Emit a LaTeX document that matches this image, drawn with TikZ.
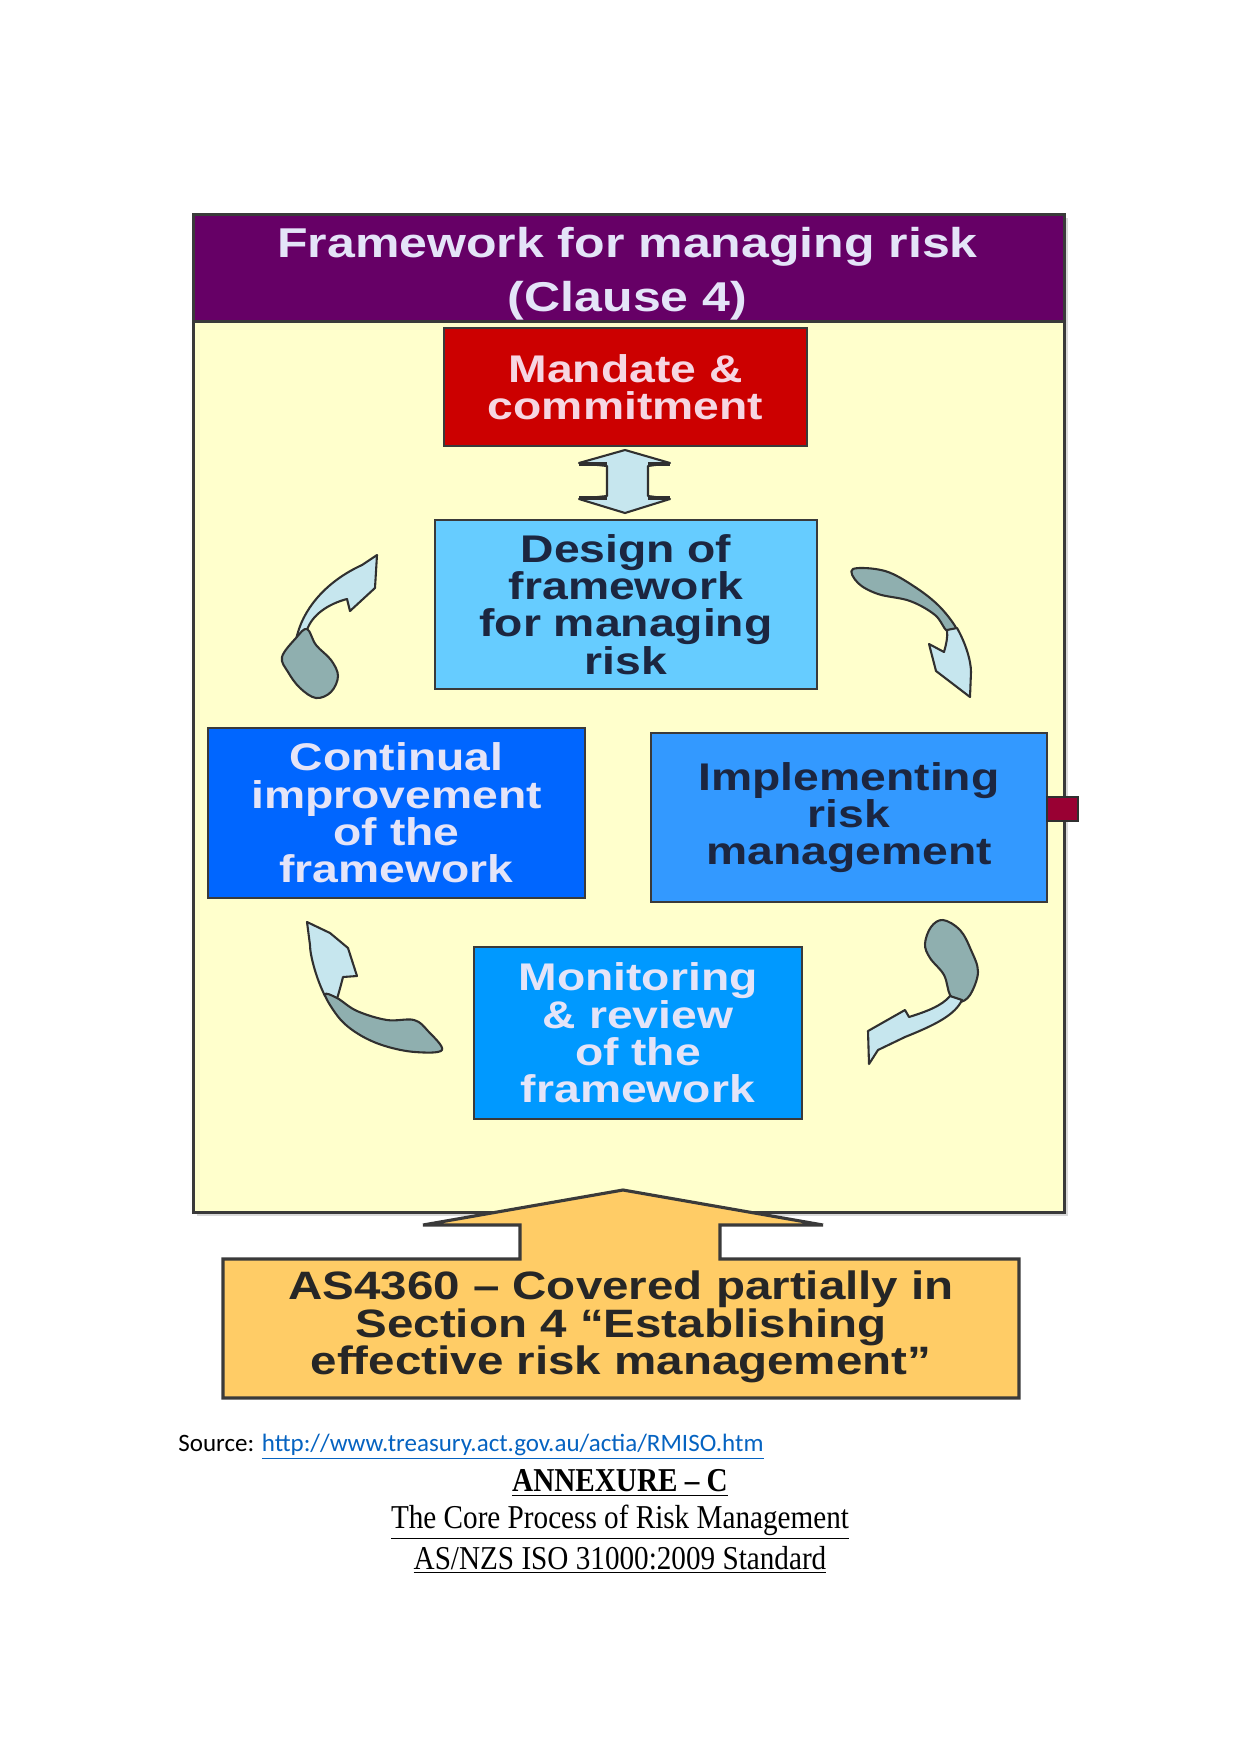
\documentclass[tikz,border=0pt]{standalone}
\usepackage{fontspec}
\setmainfont{Liberation Serif}
\newfontfamily\dfont{Liberation Sans}[FakeStretch=1.2,Ligatures=TeX]
\newfontfamily\capfont{Liberation Serif}[FakeStretch=0.875,Ligatures=TeX]
\newfontfamily\srcfont{Carlito}
\def\pxu{0.4797pt}
\definecolor{hdrpurple}{HTML}{660066}
\definecolor{framefill}{HTML}{FFFFCC}
\definecolor{frameline}{HTML}{3A3A3A}
\definecolor{mandred}{HTML}{CC0000}
\definecolor{designblue}{HTML}{66CCFF}
\definecolor{contblue}{HTML}{0066FF}
\definecolor{implblue}{HTML}{3399FF}
\definecolor{monblue}{HTML}{0099FF}
\definecolor{asorange}{HTML}{FFCC66}
\definecolor{tabred}{HTML}{990033}
\definecolor{arrlight}{HTML}{C6E6EE}
\definecolor{arrdark}{HTML}{8FAFAF}
\definecolor{arrline}{HTML}{303030}
\definecolor{linkblue}{HTML}{0563C1}
\definecolor{lighttxt}{HTML}{E4E4F8}
\definecolor{pinktxt}{HTML}{F6D6E2}
\definecolor{darktxt}{HTML}{1C2640}
\begin{document}
\begin{tikzpicture}[x=0.4797pt,y=-0.4797pt,
  box/.style={draw=frameline, line width=1.3pt, inner sep=0pt, align=center,
    font=\dfont\bfseries\fontsize{18.5}{17.9}\selectfont},
  lt/.style={fill=arrlight, draw=arrline, line width=1pt, line join=round},
  dk/.style={fill=arrdark, draw=arrline, line width=1pt, line join=round},
  capline/.style={font=\capfont\fontsize{16}{18}\selectfont, inner sep=0pt}]
\useasboundingbox (0,0) rectangle (1241,1754);
% frame with shadow
\fill[gray!30] (197,218) rectangle (1068,1216);
\node[draw=frameline, line width=1.5pt, fill=framefill, inner sep=0pt,
  minimum width=871*\pxu, minimum height=998*\pxu, anchor=north west] (frame) at (192,213) {};
\node[draw=frameline, line width=1.5pt, fill=hdrpurple, inner sep=0pt,
  minimum width=871*\pxu, minimum height=107*\pxu, anchor=north west] (hdr) at (192,213) {};
\node[inner sep=0pt, text=lighttxt, align=center, font=\dfont\bfseries\fontsize{20}{26}\selectfont] (hdrtext) at (627.5,274)
  {Framework for managing risk\\(Clause 4)};
% boxes
\node[box, fill=mandred, text=pinktxt, minimum width=363*\pxu, minimum height=118*\pxu] (mandate) at (625.5,387) {Mandate \&\\commitment};
\node[box, fill=designblue, text=darktxt, minimum width=382*\pxu, minimum height=169*\pxu] (design) at (626,604.5) {Design of\\framework\\for managing\\risk};
\node[box, fill=contblue, text=lighttxt, minimum width=377*\pxu, minimum height=170*\pxu] (cont) at (396.5,813) {Continual\\improvement\\of the\\framework};
\node[box, fill=implblue, text=darktxt, minimum width=396*\pxu, minimum height=169*\pxu] (impl) at (849,817.5) {Implementing\\risk\\management};
\node[box, fill=monblue, text=lighttxt, minimum width=328*\pxu, minimum height=172*\pxu] (mon) at (638,1033) {Monitoring\\\&~review\\of the\\framework};
% small tab
\node[draw=arrline, line width=0.8pt, fill=tabred, inner sep=0pt, minimum width=31*\pxu, minimum height=24*\pxu] (tab) at (1062.5,809) {};
% double arrow between mandate and design
\draw[lt] (625,450) -- (670,463) -- (648,466) -- (648,496) -- (670,499) -- (625,513) -- (579,499) -- (607,496) -- (607,466) -- (579,463) -- cycle;
\draw[arrline, line width=2.2pt] (579,464) -- (607,464) (648,464) -- (670,464) (579,498) -- (607,498) (648,498) -- (670,498);
% top-left curved arrow
\draw[lt] (296,640) .. controls (302,610) and (325,582) .. (362,565) -- (377,555) -- (375,588) -- (350,611) -- (347,599) .. controls (328,604) and (312,615) .. (307,630) -- cycle;
\draw[dk] plot[smooth cycle, tension=0.6] coordinates {(296,638) (307,629) (316,645) (331,660) (338,676) (331,692) (316,698) (300,688) (288,672) (282,657)};
% top-right curved arrow
\draw[dk] plot[smooth cycle, tension=0.6] coordinates {(853,569) (885,571) (915,587) (940,607) (957,630) (947,631) (935,615) (910,601) (878,594) (858,583)};
\draw[lt] (947,630) -- (957,628) .. controls (965,642) and (971,660) .. (971,672) -- (970,697) -- (936,671) -- (929,644) -- (944,652) .. controls (946,645) and (948,637) .. (947,630) -- cycle;
% bottom-right curved arrow
\draw[dk] plot[smooth cycle, tension=0.6] coordinates {(943,920) (960,930) (971,950) (978,972) (970,995) (959,1002) (950,995) (944,975) (930,958) (925,944) (931,927)};
\draw[lt] (950,996) -- (962,1000) .. controls (955,1015) and (935,1025) .. (905,1037) -- (878,1050) -- (869,1064) -- (868,1031) -- (905,1010) -- (909,1017) .. controls (925,1012) and (942,1006) .. (950,996) -- cycle;
% bottom-left curved arrow
\draw[lt] (325,996) .. controls (316,978) and (310,955) .. (310,945) -- (307,922) -- (330,933) -- (348,948) -- (357,976) -- (343,977) .. controls (341,985) and (339,992) .. (337,999) -- cycle;
\draw[dk] plot[smooth cycle, tension=0.6] coordinates {(325,995) (337,998) (357,1011) (387,1020) (414,1020) (428,1031) (442,1050) (415,1052) (385,1046) (360,1035) (340,1019)};
% bottom block arrow
\draw[fill=asorange, draw=frameline, line width=1.5pt, line join=miter]
  (223,1259) -- (520,1259) -- (520,1225) -- (423,1225) -- (623,1190) -- (823,1225) -- (720,1225) -- (720,1259) -- (1019,1259) -- (1019,1398) -- (223,1398) -- cycle;
\node[inner sep=0pt, align=center, text=black!85, font=\dfont\bfseries\fontsize{19}{17.9}\selectfont] (asnote) at (621,1327)
  {AS4360 – Covered partially in\\Section\,\,4 “Establishing\\effective risk management”};
% captions
\node[anchor=west, inner sep=0pt, font=\srcfont\fontsize{12}{14}\selectfont] (src) at (178,1447)
  {Source: \textcolor{linkblue}{\underline{http://www.treasury.act.gov.au/actia/RMISO.htm}}};
\node[capline, font=\capfont\bfseries\fontsize{16}{18}\selectfont] (annex) at (620,1483) {\underline{ANNEXURE – C}};
\node[capline] (core) at (620,1522) {\underline{The Core Process of Risk Management}};
\node[capline] (std) at (620,1560) {\underline{AS/NZS ISO 31000:2009 Standard}};
\end{tikzpicture}
\end{document}
